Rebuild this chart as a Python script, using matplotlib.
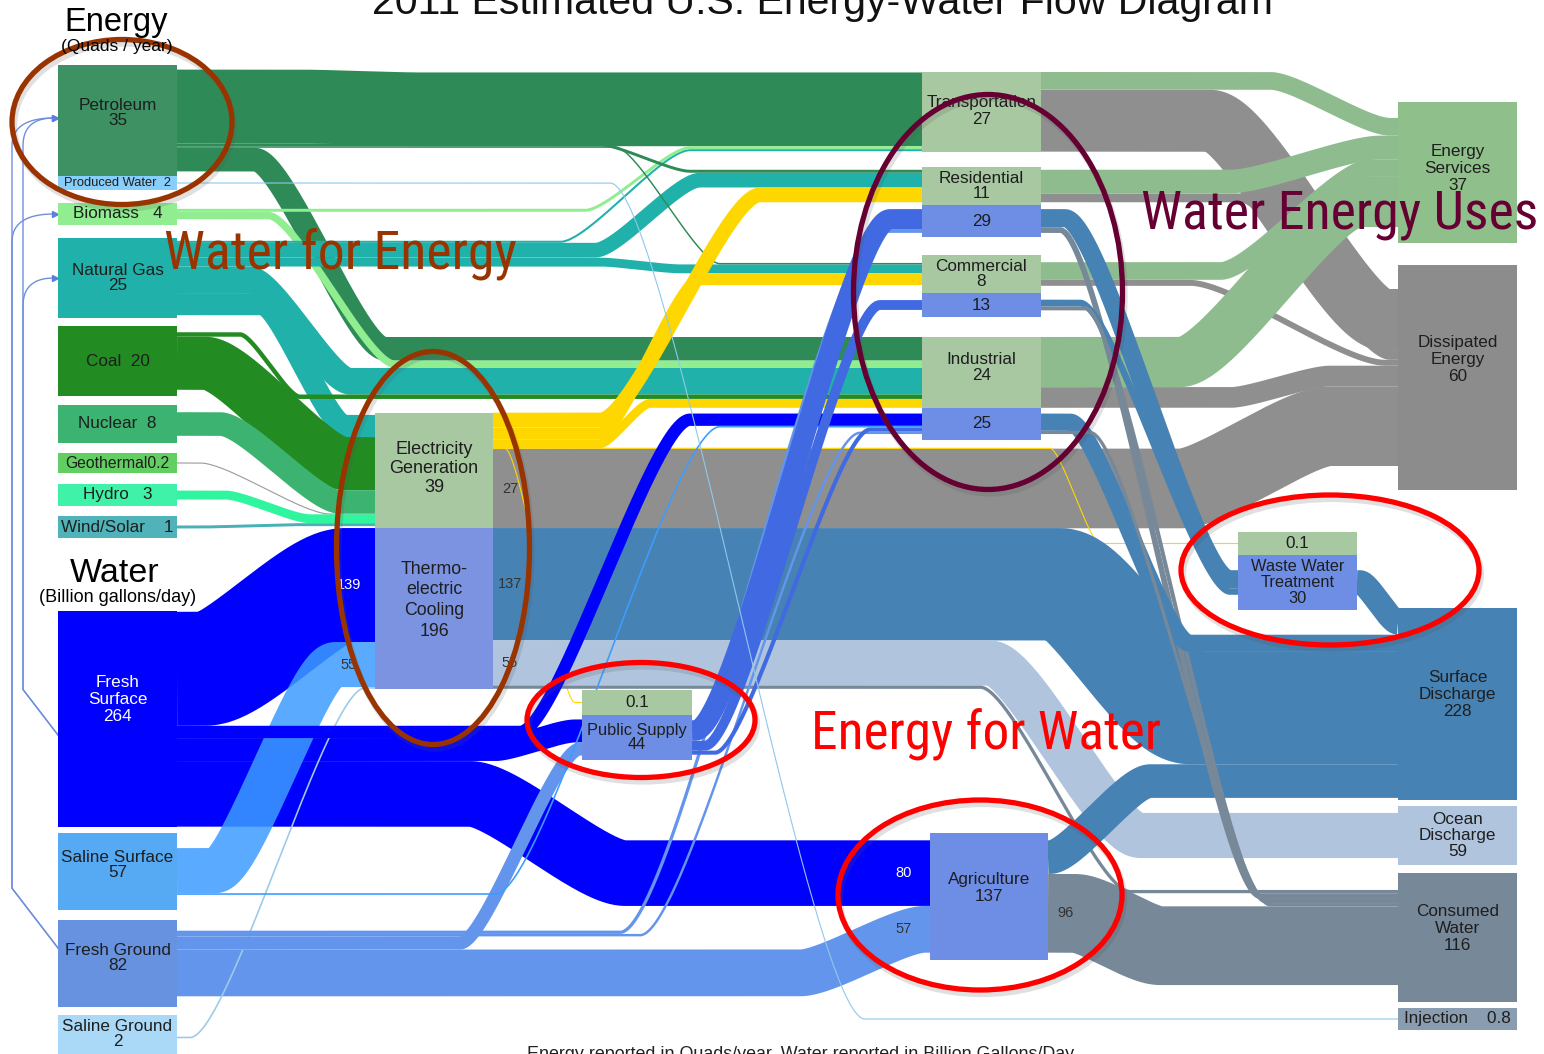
import os
import numpy as np
import matplotlib
matplotlib.use('Agg')
import matplotlib.pyplot as plt
from matplotlib import font_manager
from matplotlib.font_manager import FontProperties
from matplotlib.patches import Rectangle, Ellipse

plt.rcParams['font.family'] = ['Liberation Sans', 'DejaVu Sans']

# ---- values: energy in quads/year, water in billion gallons/day ----
energy_src = ['Petroleum', 'Biomass', 'Natural Gas', 'Coal', 'Nuclear', 'Geothermal', 'Hydro', 'Wind/Solar']
energy_src_val = [35, 4, 25, 20, 8, 0.2, 3, 1]
water_src = ['Fresh Surface', 'Saline Surface', 'Fresh Ground', 'Saline Ground']
water_src_val = [264, 57, 82, 2]
produced_water = 2
elec_gen = 39
thermo_cooling = 196
sectors = ['Transportation', 'Residential', 'Commercial', 'Industrial']
sector_energy = [27, 11, 8, 24]
sector_water = [29, 13, 25]          # residential, commercial, industrial
public_supply = [0.1, 44]            # energy, water
waste_water = [0.1, 30]              # energy, water
agriculture = 137
energy_sinks = ['Energy Services', 'Dissipated Energy']
energy_sink_val = [37, 60]
water_sinks = ['Surface Discharge', 'Ocean Discharge', 'Consumed Water', 'Injection']
water_sink_val = [228, 59, 116, 0.8]

energy_flows = [
    ('Transportation', 'Dissipated Energy', 21),
    ('Residential', 'Dissipated Energy', 3),
    ('Commercial', 'Dissipated Energy', 2),
    ('Industrial', 'Dissipated Energy', 7),
    ('Electricity Generation', 'Dissipated Energy', 27),
    ('Transportation', 'Energy Services', 6),
    ('Residential', 'Energy Services', 8),
    ('Commercial', 'Energy Services', 6),
    ('Industrial', 'Energy Services', 17),
    ('Petroleum', 'Transportation', 25),
    ('Natural Gas', 'Industrial', 9),
    ('Natural Gas', 'Electricity Generation', 7.5),
    ('Petroleum', 'Industrial', 8),
    ('Biomass', 'Industrial', 2.5),
    ('Coal', 'Electricity Generation', 18),
    ('Coal', 'Industrial', 1.5),
    ('Nuclear', 'Electricity Generation', 8),
    ('Geothermal', 'Electricity Generation', 0.2),
    ('Hydro', 'Electricity Generation', 3),
    ('Wind/Solar', 'Electricity Generation', 1),
    ('Natural Gas', 'Residential', 5),
    ('Natural Gas', 'Commercial', 3),
    ('Natural Gas', 'Transportation', 0.7),
    ('Biomass', 'Transportation', 1),
    ('Petroleum', 'Residential', 1),
    ('Petroleum', 'Commercial', 0.5),
    ('Electricity Generation', 'Residential', 5),
    ('Electricity Generation', 'Commercial', 4),
    ('Electricity Generation', 'Industrial', 3),
    ('Electricity Generation', 'Waste Water energy', 0.1),
    ('Electricity Generation', 'Public Supply energy', 0.1),
]

water_flows = [
    ('Thermoelectric Cooling', 'Surface Discharge', 137),
    ('Thermoelectric Cooling', 'Ocean Discharge', 55),
    ('Thermoelectric Cooling', 'Consumed Water', 4),
    ('Agriculture', 'Consumed Water', 96),
    ('Agriculture', 'Surface Discharge', 41),
    ('Fresh Surface', 'Thermoelectric Cooling', 139),
    ('Fresh Surface', 'Agriculture', 80),
    ('Fresh Surface', 'Public Supply', 28),
    ('Fresh Ground', 'Agriculture', 57),
    ('Saline Surface', 'Thermoelectric Cooling', 55),
    ('Saline Ground', 'Thermoelectric Cooling', 2),
    ('Fresh Ground', 'Public Supply', 16),
    ('Fresh Surface', 'Industrial water', 15),
    ('Saline Surface', 'Industrial water', 2),
    ('Fresh Ground', 'Residential water', 4),
    ('Fresh Ground', 'Industrial water', 3),
    ('Public Supply', 'Residential water', 25),
    ('Public Supply', 'Commercial water', 12),
    ('Public Supply', 'Industrial water', 5),
    ('Residential water', 'Waste Water Treatment', 22),
    ('Residential water', 'Consumed Water', 7),
    ('Commercial water', 'Waste Water Treatment', 8),
    ('Commercial water', 'Consumed Water', 5),
    ('Industrial water', 'Surface Discharge', 21),
    ('Industrial water', 'Consumed Water', 4),
    ('Waste Water Treatment', 'Surface Discharge', 30),
    ('Produced Water', 'Injection', 0.8),
]

# water drawn into energy production (thin return lines on the left)
water_for_energy = [('Fresh Ground', 'Biomass'), ('Fresh Ground', 'Petroleum'),
                    ('Fresh Surface', 'Petroleum'), ('Fresh Surface', 'Natural Gas')]

# ---- node values and units ----
vals = {}
vals.update(zip(energy_src, energy_src_val))
vals.update(zip(water_src, water_src_val))
vals['Produced Water'] = produced_water
vals['Electricity Generation'] = elec_gen
vals['Thermoelectric Cooling'] = thermo_cooling
vals.update(zip(sectors, sector_energy))
for s, v in zip(sectors[1:], sector_water):
    vals[s + ' water'] = v
vals['Public Supply energy'], vals['Public Supply'] = public_supply
vals['Waste Water energy'], vals['Waste Water Treatment'] = waste_water
vals['Agriculture'] = agriculture
vals.update(zip(energy_sinks, energy_sink_val))
vals.update(zip(water_sinks, water_sink_val))

water_nodes = set(water_src) | set(water_sinks) | {
    'Produced Water', 'Thermoelectric Cooling', 'Residential water', 'Commercial water',
    'Industrial water', 'Public Supply', 'Waste Water Treatment', 'Agriculture'}

E_PX = 2.95   # pixels per quad
W_PX = 0.82   # pixels per billion gallons/day


def px(key, v):
    return v * (W_PX if key in water_nodes else E_PX)


# ---- layout (pixel canvas, y grows downward) ----
C1, C2, C3, C4, C5, C6 = 58, 375, 582, 922, 1238, 1398
SAGE = '#a8c8a2'
USEBLUE = '#6e8ee6'
layout = {
    'Petroleum':      dict(x=C1, y=65, w=119, minh=111, fc='#3d9163', fmt='{n}\n{v}', ly=0.43, lsp=1.0),
    'Produced Water': dict(x=C1, y=176, w=119, minh=14, fc='#87cefa', fmt='{n}  {v}', fs=9.3),
    'Biomass':        dict(x=C1, y=203, w=119, minh=22, fc='#90ee90', fmt='{n}   {v}'),
    'Natural Gas':    dict(x=C1, y=238, w=119, minh=80, fc='#20b2aa', fmt='{n}\n{v}', lsp=1.0),
    'Coal':           dict(x=C1, y=326, w=119, minh=70, fc='#228b22', fmt='{n}  {v}'),
    'Nuclear':        dict(x=C1, y=405, w=119, minh=38, fc='#3cb371', fmt='{n}  {v}'),
    'Geothermal':     dict(x=C1, y=453, w=119, minh=20, fc='#62cf62', fmt='{n}{v}', fs=11.3),
    'Hydro':          dict(x=C1, y=484, w=119, minh=22, fc='#40f2a8', fmt='{n}   {v}'),
    'Wind/Solar':     dict(x=C1, y=516, w=119, minh=22, fc='#4fb3b9', fmt='{n}    {v}'),
    'Fresh Surface':  dict(x=C1, y=611, w=119, minh=0, fc='#0000ff', fmt='Fresh\nSurface\n{v}', tc='white', ly=0.41),
    'Saline Surface': dict(x=C1, y=833, w=119, minh=77, fc='#56aaf4', fmt='{n}\n{v}', ly=0.42, lsp=1.0),
    'Fresh Ground':   dict(x=C1, y=920, w=119, minh=87, fc='#6692e0', fmt='{n}\n{v}', ly=0.44, lsp=1.0),
    'Saline Ground':  dict(x=C1, y=1015, w=119, minh=45, fc='#a9d9f7', fmt='{n}\n{v}', ly=0.42, lsp=0.95),
    'Electricity Generation': dict(x=C2, y=413, w=118, minh=0, fc=SAGE, fmt='Electricity\nGeneration\n{v}',
                                   ly=0.48, fs=13),
    'Thermoelectric Cooling': dict(x=C2, y='Electricity Generation', w=118, minh=0, fc='#7b93e1',
                                   fmt='Thermo-\nelectric\nCooling\n{v}', ly=0.45, lsp=1.3, fs=12.8),
    'Public Supply energy': dict(x=C3, y=690, w=110, minh=25, fc=SAGE, fmt='{v}'),
    'Public Supply':  dict(x=C3, y='Public Supply energy', w=110, minh=45, fc=USEBLUE, fmt='{n}\n{v}',
                           lsp=0.95, fs=11.8),
    'Transportation': dict(x=C4, y=72, w=119, minh=0, fc=SAGE, fmt='{n}\n{v}', ly=0.49),
    'Residential':    dict(x=C4, y=167, w=119, minh=38, fc=SAGE, fmt='{n}\n{v}', lsp=1.05),
    'Residential water': dict(x=C4, y='Residential', w=119, minh=32, fc=USEBLUE, fmt='{v}'),
    'Commercial':     dict(x=C4, y=255, w=119, minh=38, fc=SAGE, fmt='{n}\n{v}', lsp=1.05),
    'Commercial water': dict(x=C4, y='Commercial', w=119, minh=24, fc=USEBLUE, fmt='{v}'),
    'Industrial':     dict(x=C4, y=337, w=119, minh=68, fc=SAGE, fmt='{n}\n{v}', ly=0.43),
    'Industrial water': dict(x=C4, y='Industrial', w=119, minh=32, fc=USEBLUE, fmt='{v}'),
    'Agriculture':    dict(x=930, y=833, w=118, minh=127, fc=USEBLUE, fmt='{n}\n{v}', ly=0.43),
    'Waste Water energy': dict(x=C5, y=532, w=119, minh=23, fc=SAGE, fmt='{v}'),
    'Waste Water Treatment': dict(x=C5, y='Waste Water energy', w=119, minh=55, fc=USEBLUE,
                                  fmt='Waste Water\nTreatment\n{v}', lsp=1.05, fs=11.8),
    'Energy Services':   dict(x=C6, y=102, w=119, minh=141, fc='#8fbf8a', fmt='Energy\nServices\n{v}', ly=0.47),
    'Dissipated Energy': dict(x=C6, y=265, w=119, minh=225, fc='#8c8c8c', fmt='Dissipated\nEnergy\n{v}', ly=0.42),
    'Surface Discharge': dict(x=C6, y=608, w=119, minh=192, fc='#4682b4', fmt='Surface\nDischarge\n{v}', ly=0.45),
    'Ocean Discharge':   dict(x=C6, y=806, w=119, minh=59, fc='#b0c4de', fmt='Ocean\nDischarge\n{v}', lsp=1.1),
    'Consumed Water':    dict(x=C6, y=873, w=119, minh=129, fc='#778899', fmt='Consumed\nWater\n{v}', ly=0.43),
    'Injection':         dict(x=C6, y=1008, w=119, minh=22, fc='#8a9db0', fmt='{n}    {v}'),
}

PET, BIO, NG, COAL = '#2e8b57', '#90ee90', '#20b2aa', '#228b22'
NUC, HYDRO, WIND, GOLD = '#3cb371', '#2ef59e', '#48b0b6', '#ffd700'
GREY, SVC = '#8f8f8f', '#8fbc8f'
BLUE, SS, FG, SG = '#0000ff', '#3d9cff', '#6495ed', '#9ccbea'
STEEL, LSTEEL, SLATE, ROYAL = '#4682b4', '#b0c4de', '#778899', '#4169e1'

# (source rank, target rank, bend start x, bend end x, colour)
route = {
    ('Transportation', 'Dissipated Energy'): (1, 0, 1210, 1385, GREY),
    ('Residential', 'Dissipated Energy'): (1, 1, 1240, 1390, GREY),
    ('Commercial', 'Dissipated Energy'): (1, 2, 1190, 1385, GREY),
    ('Industrial', 'Dissipated Energy'): (1, 3, 1230, 1330, GREY),
    ('Electricity Generation', 'Dissipated Energy'): (5, 4, 1180, 1330, GREY),
    ('Transportation', 'Energy Services'): (0, 0, 1270, 1390, SVC),
    ('Residential', 'Energy Services'): (0, 1, 1230, 1380, SVC),
    ('Commercial', 'Energy Services'): (0, 2, 1220, 1370, SVC),
    ('Industrial', 'Energy Services'): (0, 3, 1180, 1360, SVC),
    ('Petroleum', 'Transportation'): (0, 0, 300, 420, PET),
    ('Petroleum', 'Residential'): (1, 0, 600, 690, PET),
    ('Petroleum', 'Commercial'): (2, 0, 615, 720, PET),
    ('Petroleum', 'Industrial'): (3, 0, 255, 385, PET),
    ('Biomass', 'Transportation'): (0, 1, 585, 690, BIO),
    ('Biomass', 'Industrial'): (1, 1, 268, 395, BIO),
    ('Natural Gas', 'Transportation'): (0, 2, 560, 690, NG),
    ('Natural Gas', 'Residential'): (1, 1, 595, 700, NG),
    ('Natural Gas', 'Commercial'): (2, 1, 600, 680, NG),
    ('Natural Gas', 'Industrial'): (3, 2, 250, 350, NG),
    ('Natural Gas', 'Electricity Generation'): (4, 0, 262, 345, NG),
    ('Coal', 'Industrial'): (0, 3, 240, 300, COAL),
    ('Coal', 'Electricity Generation'): (1, 1, 205, 345, COAL),
    ('Nuclear', 'Electricity Generation'): (0, 2, 220, 340, NUC),
    ('Geothermal', 'Electricity Generation'): (0, 3, 200, 330, '#9a9a9a'),
    ('Hydro', 'Electricity Generation'): (0, 4, 225, 310, HYDRO),
    ('Wind/Solar', 'Electricity Generation'): (0, 5, 200, 300, WIND),
    ('Electricity Generation', 'Residential'): (0, 2, 600, 760, GOLD),
    ('Electricity Generation', 'Commercial'): (1, 2, 600, 700, GOLD),
    ('Electricity Generation', 'Industrial'): (2, 4, 600, 650, GOLD),
    ('Electricity Generation', 'Waste Water energy'): (3, 0, 1050, 1100, GOLD),
    ('Electricity Generation', 'Public Supply energy'): (4, 0, 505, 575, GOLD),
    ('Thermoelectric Cooling', 'Surface Discharge'): (0, 2, 1060, 1190, STEEL),
    ('Thermoelectric Cooling', 'Ocean Discharge'): (1, 0, 990, 1140, LSTEEL),
    ('Thermoelectric Cooling', 'Consumed Water'): (2, 0, 980, 1130, SLATE),
    ('Agriculture', 'Consumed Water'): (1, 4, 1075, 1160, SLATE),
    ('Agriculture', 'Surface Discharge'): (0, 3, 1050, 1150, STEEL),
    ('Fresh Surface', 'Thermoelectric Cooling'): (0, 0, 205, 345, BLUE),
    ('Fresh Surface', 'Agriculture'): (3, 0, 470, 625, BLUE),
    ('Fresh Surface', 'Public Supply'): (2, 0, 495, 575, BLUE),
    ('Fresh Ground', 'Agriculture'): (3, 1, 800, 925, FG),
    ('Saline Surface', 'Thermoelectric Cooling'): (0, 1, 215, 335, SS),
    ('Saline Ground', 'Thermoelectric Cooling'): (0, 2, 190, 365, SG),
    ('Fresh Ground', 'Public Supply'): (2, 1, 460, 580, FG),
    ('Fresh Surface', 'Industrial water'): (1, 0, 520, 690, BLUE),
    ('Saline Surface', 'Industrial water'): (1, 1, 495, 720, SS),
    ('Fresh Ground', 'Residential water'): (0, 1, 620, 880, FG),
    ('Fresh Ground', 'Industrial water'): (1, 3, 640, 860, FG),
    ('Public Supply', 'Residential water'): (0, 0, 695, 890, ROYAL),
    ('Public Supply', 'Commercial water'): (1, 0, 705, 880, ROYAL),
    ('Public Supply', 'Industrial water'): (2, 2, 715, 870, ROYAL),
    ('Residential water', 'Waste Water Treatment'): (0, 0, 1065, 1230, STEEL),
    ('Residential water', 'Consumed Water'): (1, 1, 1060, 1260, SLATE),
    ('Commercial water', 'Waste Water Treatment'): (0, 1, 1080, 1230, STEEL),
    ('Commercial water', 'Consumed Water'): (1, 2, 1085, 1265, SLATE),
    ('Industrial water', 'Surface Discharge'): (0, 1, 1070, 1190, STEEL),
    ('Industrial water', 'Consumed Water'): (1, 3, 1090, 1270, SLATE),
    ('Waste Water Treatment', 'Surface Discharge'): (0, 0, 1360, 1398, STEEL),
    ('Produced Water', 'Injection'): (0, 0, 610, 865, '#8fc8ee'),
}
alpha = {('Saline Surface', 'Thermoelectric Cooling'): 0.85}

# value labels printed on some flows: which end, text colour
flow_labels = {
    ('Fresh Surface', 'Thermoelectric Cooling'): ('dst', 'white'),
    ('Saline Surface', 'Thermoelectric Cooling'): ('dst', '#333333'),
    ('Thermoelectric Cooling', 'Surface Discharge'): ('src', '#333333'),
    ('Thermoelectric Cooling', 'Ocean Discharge'): ('src', '#333333'),
    ('Electricity Generation', 'Dissipated Energy'): ('src', '#333333'),
    ('Fresh Surface', 'Agriculture'): ('dst', 'white'),
    ('Fresh Ground', 'Agriculture'): ('dst', '#333333'),
    ('Agriculture', 'Consumed Water'): ('src', '#333333'),
}

# ---- node geometry ----
geo = {}
for key, lo in layout.items():
    h = max(px(key, vals[key]), lo['minh'])
    y = lo['y']
    if isinstance(y, str):
        y = geo[y][1] + geo[y][3]
    geo[key] = (lo['x'], y, lo['w'], h)

flows = [(s, d, v, E_PX) for s, d, v in energy_flows] + [(s, d, v, W_PX) for s, d, v in water_flows]

# stack the flows at each node, centred in the box
src_y, dst_y = {}, {}
for side, rank_i, store in (('src', 0, src_y), ('dst', 1, dst_y)):
    groups = {}
    for s, d, v, sc in flows:
        groups.setdefault(s if side == 'src' else d, []).append((route[(s, d)][rank_i], s, d, v * sc))
    for node, items in groups.items():
        items.sort()
        x, y, w, h = geo[node]
        total = sum(it[3] for it in items)
        cur = y + (h - total) / 2
        for _, s, d, t in items:
            store[(s, d)] = cur + t / 2
            cur += t


def link_path(x0, x1, y0, y1, xa, xb, k=0.22):
    xa, xb = max(xa, x0), min(xb, x1)
    d = xb - xa
    u = np.linspace(0, 1, 160)
    cx = [xa, xa + k * d, xb - k * d, xb]
    cy = [y0, y0, y1, y1]
    bez = lambda c: ((1 - u) ** 3 * c[0] + 3 * (1 - u) ** 2 * u * c[1]
                     + 3 * (1 - u) * u ** 2 * c[2] + u ** 3 * c[3])
    return (np.concatenate([[x0], bez(cx), [x1]]),
            np.concatenate([[y0], bez(cy), [y1]]))


fig = plt.figure(figsize=(15.44, 10.54), dpi=100)
ax = fig.add_axes([0, 0, 1, 1])
ax.set_xlim(0, 1544)
ax.set_ylim(1054, 0)
ax.axis('off')
PT = 72 / fig.dpi

for s, d, v, sc in flows:
    _, _, xa, xb, col = route[(s, d)]
    xs0, _, ws0, _ = geo[s]
    x0 = xs0 + ws0
    x1 = geo[d][0]
    y0, y1 = src_y[(s, d)], dst_y[(s, d)]
    xs, ys = link_path(x0, x1, y0, y1, xa, xb)
    lw = max(v * sc * PT, 0.8)
    ax.plot(xs, ys, color=col, lw=lw, solid_capstyle='butt', solid_joinstyle='round',
            alpha=alpha.get((s, d), 1.0), zorder=2)
    if (s, d) in flow_labels:
        end, tc = flow_labels[(s, d)]
        if end == 'src':
            ax.text(x0 + 17, y0, f'{v:g}', color=tc, fontsize=10.5, ha='center', va='center', zorder=4)
        else:
            ax.text(x1 - 26, y1, f'{v:g}', color=tc, fontsize=10.5, ha='center', va='center', zorder=4)

# water-for-energy lines looping round the left edge
lanes = {'Fresh Ground': 12, 'Fresh Surface': 23}
for s, d in water_for_energy:
    lane = lanes[s]
    ys = geo[s][1] + (124 if s == 'Fresh Surface' else 28)
    yt = geo[d][1] + min(geo[d][3] * 0.5, 53)
    u = np.linspace(0, 1, 30)
    bx = (1 - u) ** 2 * lane + 2 * (1 - u) * u * lane + u ** 2 * (C1 - 4)
    by = (1 - u) ** 2 * (yt + 28) + 2 * (1 - u) * u * yt + u ** 2 * yt
    xs = np.concatenate([[C1, lane], bx])
    yv = np.concatenate([[ys, ys - (C1 - lane) * 1.3], by])
    ax.plot(xs, yv, color='#6f8fdc', lw=1.0, zorder=2)
    ax.plot([C1 - 3], [yt], marker='>', ms=5, color='#5a7fe0', zorder=3)

# node boxes and labels
for key, lo in layout.items():
    x, y, w, h = geo[key]
    ax.add_patch(Rectangle((x, y), w, h, fc=lo['fc'], ec='none', zorder=3))
    v = vals[key]
    name = key.replace(' energy', '').replace(' water', '')
    txt = lo['fmt'].format(n=name, v=f'{v:g}')
    ax.text(x + w / 2, y + h * lo.get('ly', 0.5), txt, ha='center', va='center',
            fontsize=lo.get('fs', 12.3), color=lo.get('tc', '#1e1e1e'),
            linespacing=lo.get('lsp', 1.15), zorder=4)

# headings
ax.text(822, 14, '2011 Estimated U.S. Energy-Water Flow Diagram', ha='center', va='baseline',
        fontsize=29.5, color='#111111', zorder=7)
ax.text(116, 22, 'Energy', ha='center', va='center', fontsize=23.5, zorder=7)
ax.text(117, 47, '(Quads / year)', ha='center', va='center', fontsize=12.5, zorder=7)
ax.text(115, 573, 'Water', ha='center', va='center', fontsize=24.5, zorder=7)
ax.text(118, 597, '(Billion gallons/day)', ha='center', va='center', fontsize=13, zorder=7)
ax.text(801, 1046, 'Energy reported in Quads/year. Water reported in Billion Gallons/Day',
        ha='center', va='top', fontsize=12.9, color='#222222', zorder=7)

# highlight rings (with a soft drop shadow) and callouts
rings = [((122, 122), 220, 165, '#993300'), ((433, 548), 193, 393, '#993300'),
         ((988, 292), 269, 395, '#660033'), ((641, 720), 228, 115, '#ff0000'),
         ((1330, 570), 298, 150, '#ff0000'), ((980, 895), 284, 190, '#ff0000')]
for c, w, h, col in rings:
    ax.add_patch(Ellipse((c[0] + 2, c[1] + 4), w, h, fill=False, ec='#555555', lw=4.5,
                         alpha=0.18, zorder=5))
    ax.add_patch(Ellipse(c, w, h, fill=False, ec=col, lw=3.8, zorder=6))

# callouts use a narrow face when one is installed
narrow = None
for f in sorted(font_manager.fontManager.ttflist, key=lambda f: f.fname):
    base = os.path.basename(f.fname).lower()
    if ('narrow' in base or 'condensed' in base) and not any(
            t in base for t in ('bold', 'italic', 'oblique', 'light', 'thin', 'black', 'medium')):
        narrow = FontProperties(fname=f.fname)
        if 'liberation' in base:
            break
if narrow is None:
    narrow = FontProperties(family='DejaVu Sans')

callouts = [
    (ax.text(340, 255, 'Water for Energy', fontproperties=narrow, color='#993300',
             ha='center', va='center', zorder=8), 350),
    (ax.text(1340, 215, 'Water Energy Uses', fontproperties=narrow, color='#660033',
             ha='center', va='center', zorder=8), 394),
    (ax.text(986, 735, 'Energy for Water', fontproperties=narrow, color='#ff0000',
             ha='center', va='center', zorder=8), 348),
]
fig.canvas.draw()
rend = fig.canvas.get_renderer()
for t, width in callouts:
    t.set_fontsize(10)
    wpx = t.get_window_extent(rend).width
    t.set_fontsize(min(10 * width / wpx, 40))

fig.savefig('out.png', dpi=100, facecolor='white')
